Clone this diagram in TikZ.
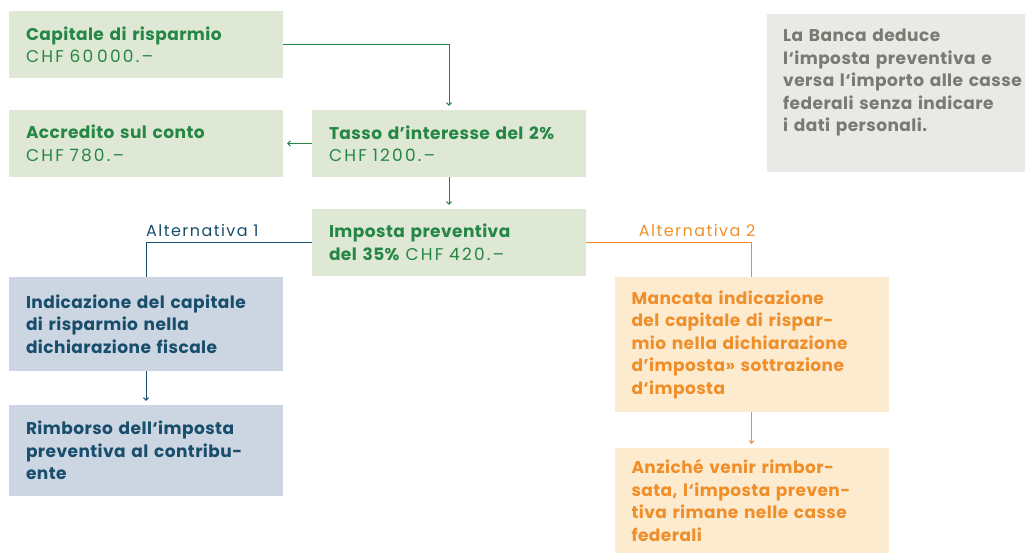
\documentclass[tikz,border=0pt]{standalone}
\usepackage{fontspec}
\setmainfont{Poppins}
\newfontfamily\headfont{Poppins}[LetterSpace=2.5]
\newfontfamily\thinfont{Poppins}[LetterSpace=13]
\newfontfamily\labelfont{Poppins}[LetterSpace=9]
\usepackage{tikz}
\usetikzlibrary{arrows.meta,positioning}

\definecolor{greenfill}{RGB}{222,232,212}
\definecolor{greentext}{RGB}{38,134,70}
\definecolor{bluefill}{RGB}{204,213,226}
\definecolor{bluetext}{RGB}{24,78,108}
\definecolor{orangefill}{RGB}{253,235,208}
\definecolor{orangetext}{RGB}{240,143,42}
\definecolor{greyfill}{RGB}{233,233,231}
\definecolor{greytext}{RGB}{122,122,115}

\tikzset{
  box/.style={text width=240pt, align=left, inner xsep=17pt, inner ysep=0pt,
    font=\headfont\fontsize{17}{22.5}\selectfont},
  greenbox/.style={box, fill=greenfill, text=greentext, minimum height=67pt},
  bluebox/.style={box, fill=bluefill, text=bluetext, font=\headfont\bfseries\fontsize{17}{22.5}\selectfont},
  orangebox/.style={box, fill=orangefill, text=orangetext, font=\headfont\bfseries\fontsize{17}{22.5}\selectfont},
  altlabel/.style={inner sep=0pt, font=\labelfont\fontsize{16}{18}\selectfont},
  flow/.style={line width=1pt, -{Straight Barb[length=2.5pt,width=5pt]}, shorten >=4pt},
  branch/.style={line width=1pt}
}
\newcommand{\flow}[3]{
  \draw [flow,color=#1] (#2) -- (#3)
}
\newcommand{\amount}[1]{{\thinfont #1}}

\begin{document}
\begin{tikzpicture}[x=1pt,y=-1pt]
\useasboundingbox (0,0) rectangle (1025,554);

% green chain
\node[greenbox] (A) at (146, 44.5) {\textbf{Capitale di risparmio}\\\amount{CHF 60\kern4pt000.–}};
\node[greenbox] (B) at (146,143.5) {\textbf{Accredito sul conto}\\\amount{CHF 780.–}};
\node[greenbox] (C) at (449,143.5) {\textbf{Tasso d’interesse del 2\%}\\\amount{CHF 1200.–}};
\node[greenbox] (D) at (449,242.5) {\textbf{Imposta preventiva}\\\textbf{del 35\%} \amount{CHF 420.–}};

% note
\node[fill=greyfill, minimum width=258pt, minimum height=158pt, inner sep=0pt] (note) at (896,93) {};
\node[anchor=north west, inner sep=0pt, text width=250pt, align=left, text=greytext,
  font=\headfont\bfseries\fontsize{17}{22.5}\selectfont] (notetext) at (783,29)
  {La Banca deduce\\l‘imposta preventiva e\\versa l‘importo alle casse\\federali senza indicare\\i dati personali.};

% alternative 1
\node[bluebox, minimum height=94pt] (E) at (146,324) {Indicazione del capitale\\di risparmio nella\\dichiarazione fiscale};
\node[bluebox, minimum height=91pt] (F) at (146,450.5) {Rimborso dell‘imposta\\preventiva al contribu-\\ente};

% alternative 2
\node[orangebox, minimum height=135pt] (G) at (751.5,344.5) {Mancata indicazione\\del capitale di rispar-\\mio nella dichiarazione\\d’imposta» sottrazione\\d‘imposta};
\node[orangebox, minimum height=105pt] (H) at (751.5,500.5) {Anziché venir rimbor-\\sata, l‘imposta preven-\\tiva rimane nelle casse\\federali};

% connect green
\draw [flow,color=greentext] (A.east) -| (C.north);
\flow {greentext} {C.west} {B.east};
\flow {greentext} {C.south} {D.north};

% connect alternatives
\draw [branch,color=bluetext] (D.west) -| (E.north);
\draw [branch,color=orangetext] (D.east) -| (G.north);
\flow {bluetext} {E.south} {F.north};
\flow {orangetext} {G.south} {H.north};

% labels
\node[altlabel, text=bluetext, anchor=base west] (alt1) at ([yshift=6pt]D.west -| E.north) {Alternativa 1};
\node[altlabel, text=orangetext, anchor=base east] (alt2) at ([xshift=4pt,yshift=6pt]D.east -| G.north) {Alternativa 2};

\end{tikzpicture}
\end{document}
